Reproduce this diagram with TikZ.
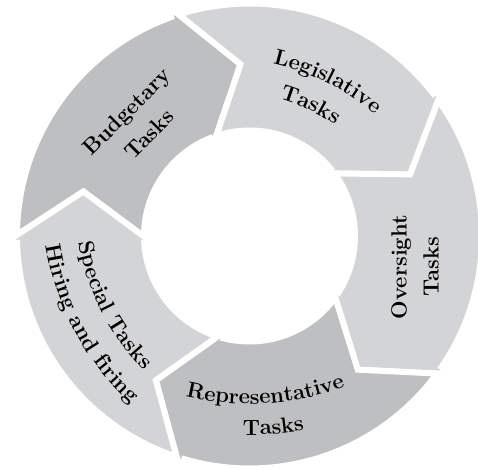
\documentclass[tikz,border=0pt]{standalone}
\usepackage{tikz}
\usetikzlibrary{calc,decorations.text}
\definecolor{segdark}{RGB}{190,191,193}
\definecolor{seglight}{RGB}{211,212,214}
\newcommand\segfont{\fontsize{16.5}{24}\selectfont\bfseries}
\tikzset{taskarrow/.style={draw=white, line width=4.5pt, line join=miter},
	tasklabel/.style={font=\segfont, align=center, inner sep=0pt}}
\def\cyclearrow[#1](#2){\draw[#1] ({#2+86.73}:232.5) arc[start angle={#2+86.73}, end angle={#2+16.7}, radius=232.5] -- ({#2+16.5}:244) -- (#2:172) -- ({#2+19}:97.5) -- ({#2+18.86}:105.5) arc[start angle={#2+18.86}, end angle={#2+87.36}, radius=105.5] -- ({#2+72}:172) -- cycle;}
\def\arctext(#1)(#2:#3:#4)#5{\path[decorate, decoration={text along path, text align=center, text={|\segfont|#5}}] ($(#1)+(#2:#4)$) arc[start angle=#2, end angle=#3, radius=#4];}

\begin{document}
\begin{tikzpicture}[x=0.75pt, y=0.75pt]
			%%%%% START %%%%%
			
			\useasboundingbox (-249.5, -232) rectangle (228.5, 236);
			
			\cyclearrow[taskarrow, fill=segdark](93);
			\cyclearrow[taskarrow, fill=seglight](21);
			\cyclearrow[taskarrow, fill=seglight](-51);
			\cyclearrow[taskarrow, fill=segdark](-123);
			\cyclearrow[taskarrow, fill=seglight](-195);
			
			\node[tasklabel, rotate=45] (budget) at (-111.7, 113.5) {Budgetary\\Tasks};
			\node[tasklabel, rotate=90] (oversight) at (165.5, -31) {Oversight\\Tasks};
			
			\coordinate (legc) at (-29.6, -61.7);
			\arctext(legc)(103.5:23.5:240){Legislative}
			\arctext(legc)(104.8:24.8:208){Tasks}
			
			\coordinate (repc) at (0, 103);
			\arctext(repc)(-116.5:-56.5:271){Representative}
			\arctext(repc)(-115.4:-55.4:302){Tasks}
			
			\coordinate (spc) at (58.7, 30);
			\arctext(spc)(167:247:232){Special Tasks}
			\arctext(spc)(168.4:248.4:265){Hiring and firing}
			
			%%%%% END %%%%%
		\end{tikzpicture}
\end{document}
